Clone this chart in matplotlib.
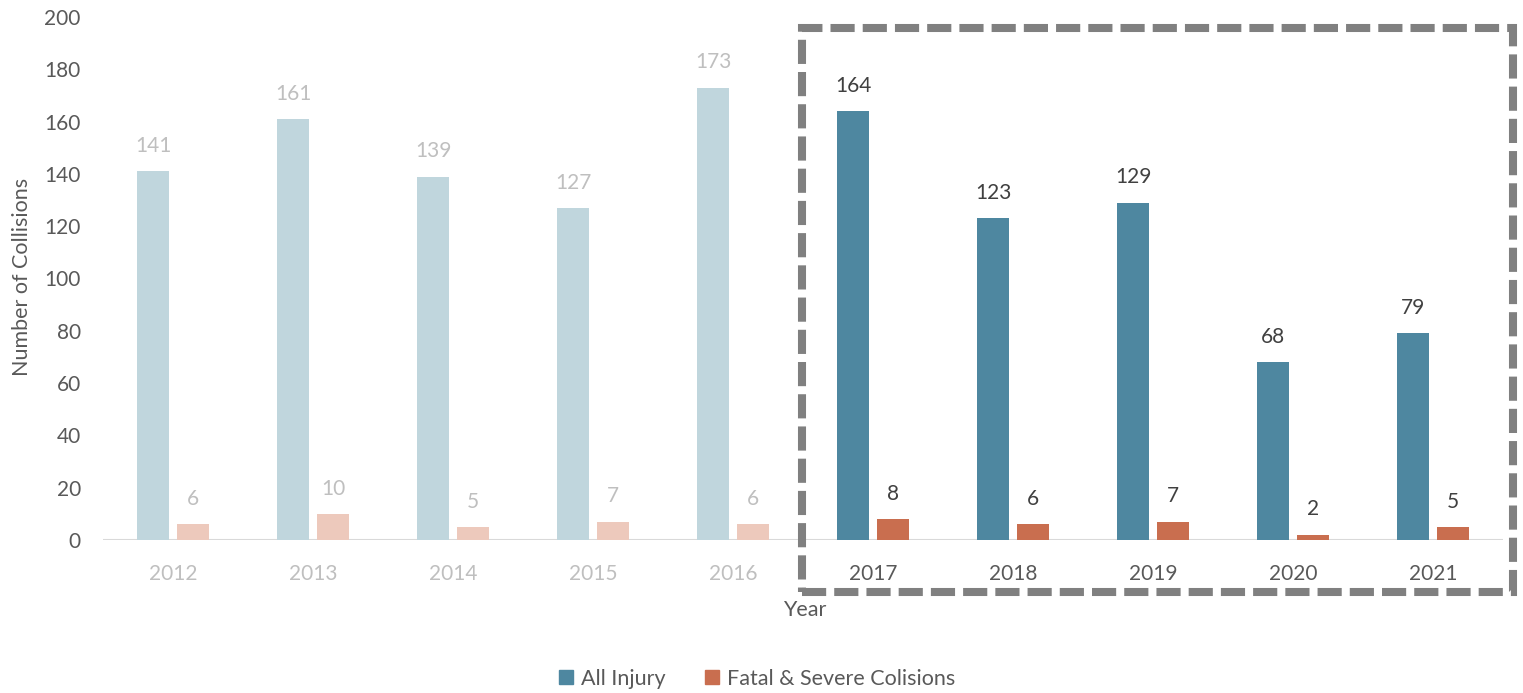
import numpy as np
import matplotlib.pyplot as plt
from matplotlib.patches import Rectangle

plt.rcParams['font.family'] = ['Lato', 'DejaVu Sans']

# datos
years = ['2012', '2013', '2014', '2015', '2016', '2017', '2018', '2019', '2020', '2021']
all_injury = [141, 161, 139, 127, 173, 164, 123, 129, 68, 79]
fatal_severe = [6, 10, 5, 7, 6, 8, 6, 7, 2, 5]
highlight = [False] * 5 + [True] * 5  # últimos cinco años resaltados

blue, blue_soft = '#4E87A0', '#C0D6DD'
orange, orange_soft = '#C96E4F', '#EDC9BC'
dark_txt, soft_txt = '#404040', '#BFBFBF'

W, H = 1523, 693
fig = plt.figure(figsize=(W / 100, H / 100), dpi=100)
ax = fig.add_axes([103 / W, 1 - 540 / H, 1400 / W, 523 / H])

x = np.arange(len(years))
bw = 0.229
off = 0.143

c1 = [blue if h else blue_soft for h in highlight]
c2 = [orange if h else orange_soft for h in highlight]
b1 = ax.bar(x - off, all_injury, bw, color=c1, zorder=2)
b2 = ax.bar(x + off, fatal_severe, bw, color=c2, zorder=2)

for bars in (b1, b2):
    labels = ax.bar_label(bars, padding=11, fontsize=15)
    for t, h in zip(labels, highlight):
        t.set_color(dark_txt if h else soft_txt)

ax.set_xlim(-0.5, 9.5)
ax.set_ylim(0, 200)
ax.set_yticks(range(0, 201, 20))
ax.set_xticks(x)
ax.set_xticklabels(years)
for t, h in zip(ax.get_xticklabels(), highlight):
    t.set_color('#595959' if h else soft_txt)

ax.tick_params(axis='both', length=0, labelsize=15)
ax.tick_params(axis='y', pad=16, labelcolor='#595959')
ax.tick_params(axis='x', pad=17)
for s in ax.spines.values():
    s.set_visible(False)
ax.axhline(0, color='#D9D9D9', lw=1.5, zorder=1)

fig.text(22 / W, 1 - 277 / H, 'Number of Collisions', rotation=90,
         ha='center', va='center', fontsize=15.5, color='#595959')
fig.text(805 / W, 1 - 610 / H, 'Year', ha='center', va='center',
         fontsize=15.5, color='#595959')

# recuadro punteado alrededor de 2017-2021
box = Rectangle((802 / W, 1 - 592 / H), (1513 - 802) / W, (592 - 28) / H,
                transform=fig.transFigure, fill=False, edgecolor='#808080',
                lw=5.8, linestyle=(0, (3, 1)), zorder=5)
fig.patches.append(box)

handles = [Rectangle((0, 0), 1, 1, color=blue), Rectangle((0, 0), 1, 1, color=orange)]
fig.legend(handles, ['All Injury', 'Fatal & Severe Colisions'], loc='lower center',
           bbox_to_anchor=(757 / W, -0.022), ncol=2, frameon=False, fontsize=15.5,
           handlelength=0.65, handleheight=0.65, handletextpad=0.4, columnspacing=1.8,
           labelcolor='#595959')

fig.savefig('out.png', dpi=100)
